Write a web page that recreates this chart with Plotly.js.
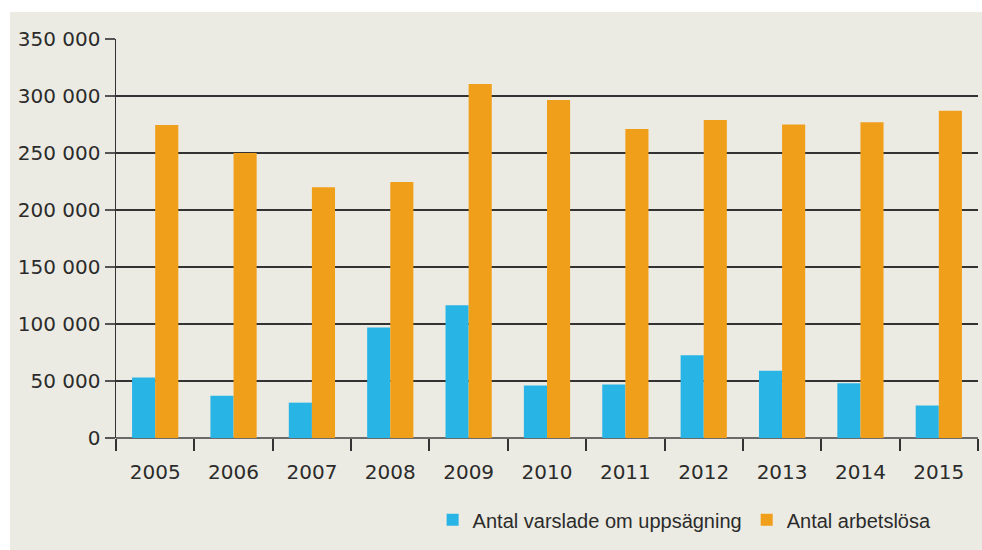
<!DOCTYPE html>
<html>
<head>
<meta charset="utf-8">
<script src="https://cdn.plot.ly/plotly-3.0.1.min.js"></script>
<style>
html, body { margin: 0; padding: 0; background: #ffffff; }
#chart { position: absolute; left: 10px; top: 12px; width: 972px; height: 538px; }
</style>
</head>
<body>
<div id="chart"></div>
<script>
const years = ["2005","2006","2007","2008","2009","2010","2011","2012","2013","2014","2015"];
const varslade = [53000, 37000, 31000, 97000, 116500, 46000, 47000, 72500, 59000, 48000, 28500];
const arbetslosa = [274500, 250000, 220000, 224500, 310500, 296500, 271000, 279000, 275000, 277000, 287000];
const seriesNames = ["Antal varslade om uppsägning", "Antal arbetslösa"];
const yTickVals = [0, 50000, 100000, 150000, 200000, 250000, 300000, 350000];
const yTickText = ["0", "50 000", "100 000", "150 000", "200 000", "250 000", "300 000", "350 000"];

const traces = [
  { type: "bar", name: seriesNames[0], x: years, y: varslade, marker: { color: "#29B4E6" } },
  { type: "bar", name: seriesNames[1], x: years, y: arbetslosa, marker: { color: "#F09F1B" } }
];

const layout = {
  width: 972, height: 538,
  paper_bgcolor: "#ECEBE3",
  plot_bgcolor: "#ECEBE3",
  margin: { l: 106, r: 4, t: 27, b: 112 },
  barmode: "group",
  bargap: 0.41,
  bargroupgap: 0,
  font: { family: "DejaVu Sans, sans-serif", size: 20, color: "#2b2b2b" },
  showlegend: true,
  legend: {
    orientation: "h", xanchor: "right", x: 0.952, yanchor: "middle", y: -0.205,
    font: { family: "Liberation Sans, Arial, sans-serif", size: 20, color: "#2b2b2b" },
    bgcolor: "rgba(0,0,0,0)", traceorder: "normal"
  },
  xaxis: {
    type: "category",
    tickson: "boundaries",
    ticks: "outside", ticklen: 12, tickwidth: 2, tickcolor: "#333333",
    showgrid: false, showline: false, zeroline: false,
    tickfont: { family: "DejaVu Sans, sans-serif", size: 20, color: "#2b2b2b" },
    ticklabelstandoff: 20
  },
  yaxis: {
    range: [0, 350000],
    tickvals: yTickVals, ticktext: yTickText,
    ticks: "outside", ticklen: 10, tickwidth: 2, tickcolor: "#555555",
    showgrid: true, gridcolor: "#333333", gridwidth: 1.5,
    zeroline: true, zerolinecolor: "#6a6a6a", zerolinewidth: 2.5,
    showline: true, linecolor: "#333333", linewidth: 1.5,
    tickfont: { family: "DejaVu Sans, sans-serif", size: 20, color: "#2b2b2b" }
  }
};

Plotly.newPlot("chart", traces, layout, { displayModeBar: false, staticPlot: true });
</script>
</body>
</html>
